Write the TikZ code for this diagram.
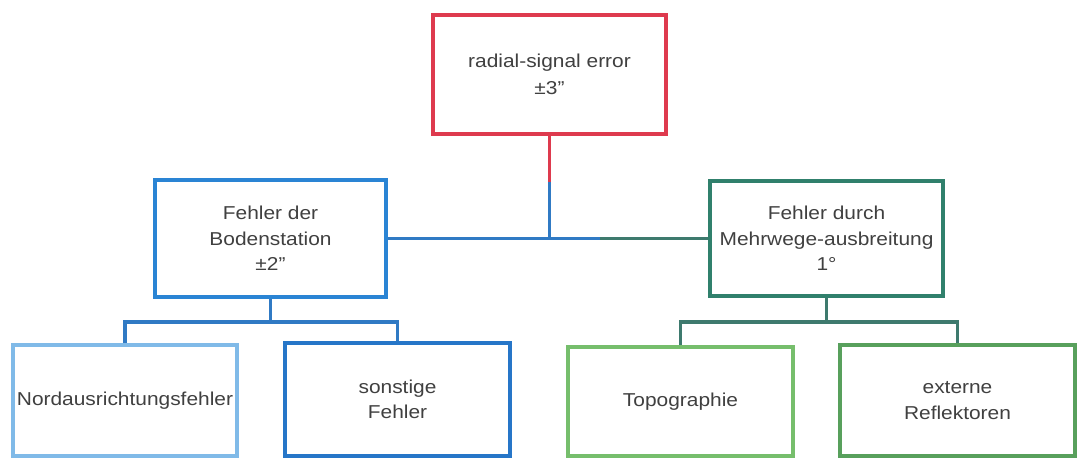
\documentclass[tikz,border=0pt]{standalone}
\usepackage{fontspec}
\setmainfont{Liberation Sans}[FakeStretch=1.12]
\definecolor{cred}{RGB}{222,58,78}
\definecolor{cbod}{RGB}{42,132,212}
\definecolor{cmehr}{RGB}{48,128,108}
\definecolor{cnord}{RGB}{128,186,232}
\definecolor{csonst}{RGB}{38,118,200}
\definecolor{ctopo}{RGB}{118,190,108}
\definecolor{cext}{RGB}{88,160,92}
\definecolor{lblue}{RGB}{48,122,196}
\definecolor{lteal}{RGB}{62,122,110}
\begin{document}
\begin{tikzpicture}[x=0.75pt,y=-0.75pt,
  box/.style={draw,line width=2.6pt,fill=white,align=center,inner sep=0pt,
    font=\fontsize{14}{19}\selectfont,text=black!75},
  conn/.style={line width=2.6pt}]
\useasboundingbox (0,0) rectangle (1077,460);
\clip (0,0) rectangle (1077,460);
\fill[white] (0,0) rectangle (1077,460);
% nodes
\node[box,draw=cred,minimum width=233*0.75pt,minimum height=119*0.75pt] (root) at (549.5,74.5) {radial-signal error\\[1pt]±3"};
\node[box,draw=cbod,minimum width=231*0.75pt,minimum height=117*0.75pt] (bod) at (270.5,238.5) {Fehler der\\Bodenstation\\±2"};
\node[box,draw=cmehr,minimum width=233*0.75pt,minimum height=115*0.75pt] (mehr) at (826.5,238.5) {Fehler durch\\Mehrwege-ausbreitung\\1°};
\node[box,draw=cnord,minimum width=224*0.75pt,minimum height=111*0.75pt] (nord) at (125,400.5) {Nordausrichtungsfehler};
\node[box,draw=csonst,minimum width=225*0.75pt,minimum height=113*0.75pt] (sonst) at (397.5,399.5) {sonstige\\Fehler};
\node[box,draw=ctopo,minimum width=225*0.75pt,minimum height=109*0.75pt] (topo) at (680.5,401.5) {Topographie};
\node[box,draw=cext,minimum width=235*0.75pt,minimum height=111*0.75pt] (ext) at (957.5,400.5) {externe\\Reflektoren};
% connector coordinates
\coordinate (rmid) at (549.5,182);
\coordinate (rj) at (549.5,238.5);
\coordinate (bmid) at (600,238.5);
\coordinate (lj) at (270.5,322);
\coordinate (rjj) at (826.5,322);
% top connectors
\draw[conn,cred] (root.south) -- (rmid);
\draw[conn,lblue] (rmid) -- (rj);
\draw[conn,lblue] (bod.east) -- (bmid);
\draw[conn,lteal] (bmid) -- (mehr.west);
% left subtree
\draw[conn,lblue] (bod.south) -- (lj);
\draw[conn,lblue] (nord.north) |- (lj) -| (sonst.north);
% right subtree
\draw[conn,lteal] (mehr.south) -- (rjj);
\draw[conn,lteal] (topo.north) |- (rjj) -| (ext.north);
\end{tikzpicture}
\end{document}
